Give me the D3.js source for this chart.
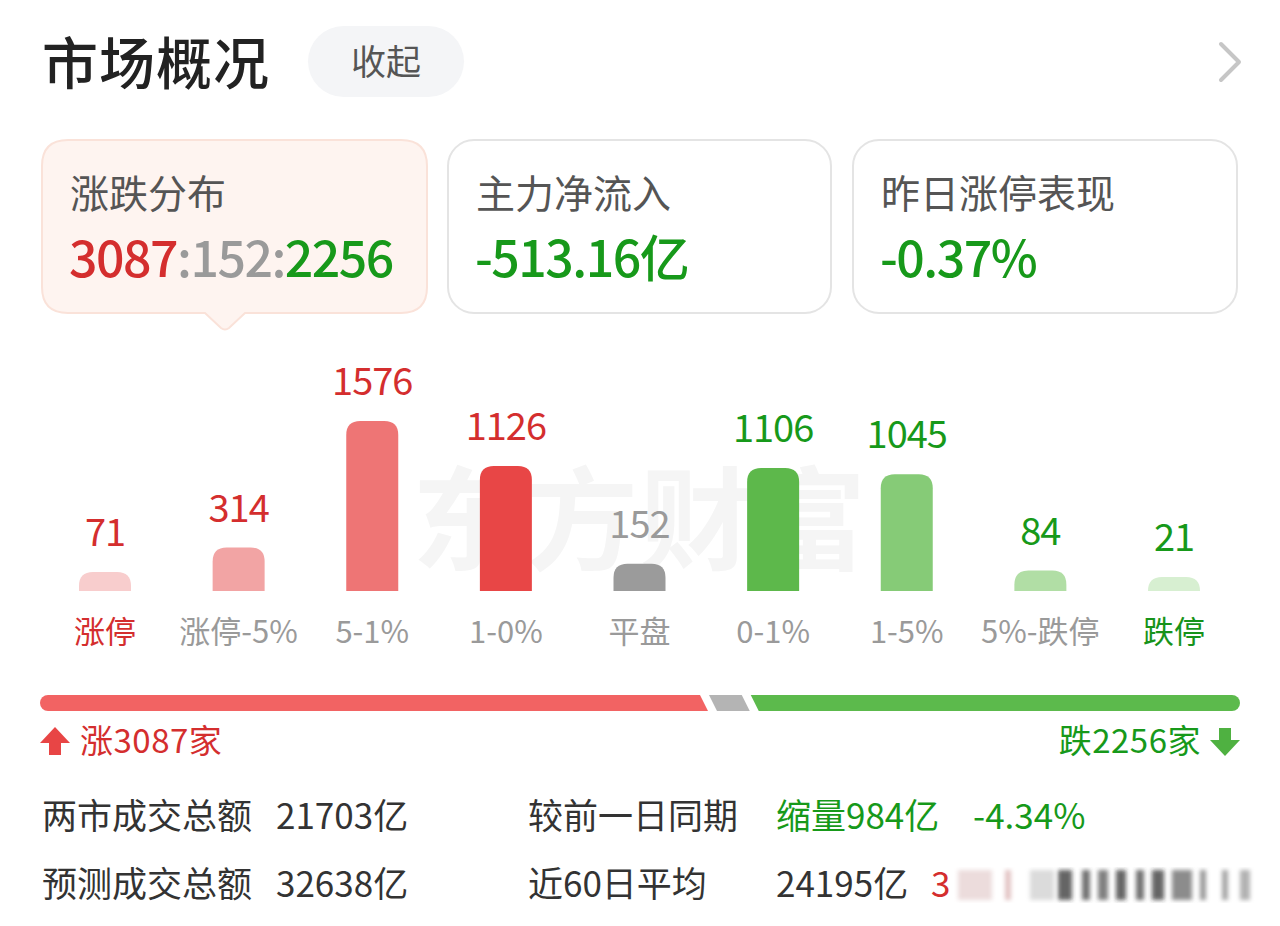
<!DOCTYPE html>
<html><head><meta charset="utf-8">
<script src="https://cdn.jsdelivr.net/npm/d3@7"></script>
<style>
html,body{margin:0;padding:0;background:#fff;}
svg{display:block;font-family:"Noto Sans CJK SC","Noto Sans",sans-serif;}
</style></head>
<body>
<svg id="c" width="1280" height="926"></svg>
<script>
// ---- data ----
const categories = ["涨停","涨停-5%","5-1%","1-0%","平盘","0-1%","1-5%","5%-跌停","跌停"];
const counts = [71, 314, 1576, 1126, 152, 1106, 1045, 84, 21];
const upDownFlat = {up: 3087, flat: 152, down: 2256};
const cardTitles = ["涨跌分布","主力净流入","昨日涨停表现"];
const cardValues = ["3087:152:2256","-513.16亿","-0.37%"];
const statLabels = [["两市成交总额","较前一日同期"],["预测成交总额","近60日平均"]];
const statValues = [["21703亿","缩量984亿","-4.34%"],["32638亿","24195亿","3"]];

// ---- styles ----
const barColors = ["#f8cdcd","#f2a4a4","#ee7575","#e84646","#9b9b9b","#5db84b","#86cb77","#b1dea5","#d7efd1"];
const valueColors = ["#d42e2e","#d42e2e","#d42e2e","#d42e2e","#9a9a9a","#17991a","#17991a","#17991a","#17991a"];
const labelColors = ["#d42e2e","#9a9a9a","#9a9a9a","#9a9a9a","#9a9a9a","#9a9a9a","#9a9a9a","#9a9a9a","#17931a"];
const RED="#d42e2e", GREEN="#17991a", GRAY="#9a9a9a";

const svg = d3.select("#c");
const defs = svg.append("defs");
defs.append("filter").attr("id","blur").append("feGaussianBlur").attr("stdDeviation",2.2);

// title
svg.append("text").attr("x",42).attr("y",84).attr("font-size",56).attr("font-weight",500)
  .attr("fill","#222").attr("letter-spacing",1).text("市场概况");
svg.append("rect").attr("x",308).attr("y",26).attr("width",156).attr("height",71).attr("rx",35.5)
  .attr("fill","#f4f5f7");
svg.append("text").attr("x",386).attr("y",75).attr("text-anchor","middle").attr("font-size",35)
  .attr("fill","#555").text("收起");
svg.append("polyline").attr("points","1221,44 1239,62 1221,80").attr("fill","none")
  .attr("stroke","#c6c6c6").attr("stroke-width",4).attr("stroke-linecap","round").attr("stroke-linejoin","round");

// cards
const cardX = [42,448,853], cardW = [385,383,384];
cardTitles.forEach((t,i)=>{
  const g = svg.append("g");
  if(i===0){
    g.append("path").attr("d",`M${cardX[i]+26},140 H${cardX[i]+cardW[i]-26} Q${cardX[i]+cardW[i]},140 ${cardX[i]+cardW[i]},166 V287 Q${cardX[i]+cardW[i]},313 ${cardX[i]+cardW[i]-26},313 H245 L229,328 Q225,331 221,328 L205,313 H${cardX[i]+26} Q${cardX[i]},313 ${cardX[i]},287 V166 Q${cardX[i]},140 ${cardX[i]+26},140 Z`)
      .attr("fill","#fef4f0").attr("stroke","#fae2d9").attr("stroke-width",2);
  } else {
    g.append("rect").attr("x",cardX[i]).attr("y",140).attr("width",cardW[i]).attr("height",173).attr("rx",26)
      .attr("fill","#fff").attr("stroke","#e4e4e4").attr("stroke-width",2);
  }
  g.append("text").attr("x",cardX[i]+28).attr("y",208).attr("font-size",39).attr("fill","#555").text(t);
  const v = g.append("text").attr("x",cardX[i]+27).attr("y",277).attr("font-size",50).attr("font-weight",500)
    .attr("letter-spacing",-1.5);
  if(i===0){
    const parts = cardValues[0].split(":");
    v.append("tspan").attr("fill",RED).text(parts[0]);
    v.append("tspan").attr("fill",GRAY).text(":"+parts[1]+":");
    v.append("tspan").attr("fill",GREEN).text(parts[2]);
  } else {
    v.attr("fill",GREEN).text(cardValues[i]);
  }
});

// watermark
svg.append("text").attr("x",640).attr("y",562).attr("text-anchor","middle").attr("font-size",112)
  .attr("font-weight",700).attr("fill","#f5f5f5").attr("letter-spacing",2).text("东方财富");

// bars
const baseY = 591, barW = 52, r = 14;
const x = d3.scalePoint().domain(categories).range([105,1174]);
const h = d3.scaleLinear().domain([0,1576]).range([12,170]);
const bars = svg.append("g");
categories.forEach((c,i)=>{
  const cx = x(c), hh = h(counts[i]), x0 = cx-barW/2, top = baseY-hh, rr = Math.min(r, hh);
  bars.append("path").attr("d",
    `M${x0},${baseY} V${top+rr} Q${x0},${top} ${x0+rr},${top} H${x0+barW-rr} Q${x0+barW},${top} ${x0+barW},${top+rr} V${baseY} Z`)
    .attr("fill",barColors[i]);
  bars.append("text").attr("x",cx).attr("y",top-26).attr("text-anchor","middle").attr("font-size",38)
    .attr("fill",valueColors[i]).attr("letter-spacing",-1).text(counts[i]);
  bars.append("text").attr("x",cx).attr("y",643).attr("text-anchor","middle").attr("font-size",31)
    .attr("fill",labelColors[i]).text(c);
});

// ratio bar
const total = upDownFlat.up+upDownFlat.flat+upDownFlat.down;
const gap = 9, bx0 = 40, bx1 = 1240, by0 = 695, by1 = 711, sl = 4;
const w = d3.scaleLinear().domain([0,total]).range([0, (bx1-bx0) - 2*gap]);
const e1 = bx0 + w(upDownFlat.up);
const s2 = e1+gap, e2 = s2 + w(upDownFlat.flat), s3 = e2+gap;
const rb = svg.append("g");
rb.append("path").attr("d",`M${bx0+8},${by0} H${e1-sl} L${e1+sl},${by1} H${bx0+8} A8,8 0 0 1 ${bx0+8},${by0} Z`).attr("fill","#f26363");
rb.append("path").attr("d",`M${s2-sl},${by0} H${e2-sl} L${e2+sl},${by1} H${s2+sl} Z`).attr("fill","#b4b4b4");
rb.append("path").attr("d",`M${s3-sl},${by0} H${bx1-8} A8,8 0 0 1 ${bx1-8},${by1} H${s3+sl} Z`).attr("fill","#5cba4c");

// up/down labels
svg.append("path").attr("d","M40,743 L55,727 L70,743 L61,743 L61,755 L49,755 L49,743 Z").attr("fill","#e84545");
svg.append("text").attr("x",80).attr("y",753).attr("font-size",33).attr("fill",RED).attr("letter-spacing",0.5).text("涨"+upDownFlat.up+"家");
svg.append("path").attr("d","M1210,740 L1219,740 L1219,728 L1231,728 L1231,740 L1240,740 L1225,756 Z").attr("fill","#4fb141");
svg.append("text").attr("x",1201).attr("y",753).attr("text-anchor","end").attr("font-size",33).attr("fill",GREEN).attr("letter-spacing",0.5).text("跌"+upDownFlat.down+"家");

// stats
const rowY = [829,897];
statLabels.forEach((row,ri)=>{
  svg.append("text").attr("x",42).attr("y",rowY[ri]).attr("font-size",35).attr("fill","#333").text(row[0]);
  svg.append("text").attr("x",276).attr("y",rowY[ri]).attr("font-size",35).attr("fill","#333").text(statValues[ri][0]);
  svg.append("text").attr("x",528).attr("y",rowY[ri]).attr("font-size",35).attr("fill","#333").text(row[1]);
});
svg.append("text").attr("x",776).attr("y",rowY[0]).attr("font-size",35).attr("fill",GREEN).text(statValues[0][1]);
svg.append("text").attr("x",973).attr("y",rowY[0]).attr("font-size",35).attr("fill",GREEN).text(statValues[0][2]);
svg.append("text").attr("x",776).attr("y",rowY[1]).attr("font-size",35).attr("fill","#333").text(statValues[1][1]);
svg.append("text").attr("x",931).attr("y",rowY[1]).attr("font-size",35).attr("fill",RED).text(statValues[1][2]);

// blurred (obscured) remainder of the last row
const bl = svg.append("g").attr("filter","url(#blur)");
[[958,34,"#e6d0d0"],[1005,6,"#d9b0b0"],[1030,24,"#cfcfcf"],[1058,14,"#333"],[1082,8,"#444"],[1098,10,"#555"],[1116,10,"#333"],[1136,8,"#444"],[1152,12,"#333"],[1172,20,"#666"],[1200,6,"#777"],[1222,6,"#888"],[1240,10,"#999"]]
  .forEach(d=>bl.append("rect").attr("x",d[0]).attr("y",870).attr("width",d[1]).attr("height",30).attr("fill",d[2]).attr("opacity",0.75));
</script>
</body></html>
